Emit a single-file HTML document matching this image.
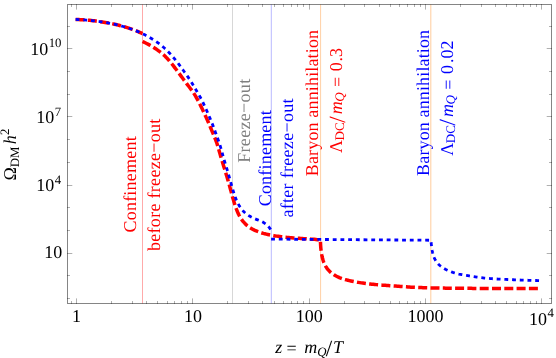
<!DOCTYPE html>
<html><head><meta charset="utf-8"><title>plot</title>
<style>html,body{margin:0;padding:0;background:#fff;}body{width:556px;height:358px;overflow:hidden;position:relative;font-family:"Liberation Serif",serif;}</style></head>
<body>
<svg width="556" height="358" viewBox="0 0 556 358" style="position:absolute;left:0;top:0;font-family:'Liberation Serif',serif;text-rendering:geometricPrecision;will-change:transform">
<rect width="556" height="358" fill="#fff"/>
<line x1="142.5" y1="4.5" x2="142.5" y2="303.5" stroke="rgb(255,170,170)" stroke-width="1"/>
<line x1="232.5" y1="4.5" x2="232.5" y2="303.5" stroke="rgb(215,215,215)" stroke-width="1"/>
<line x1="271.3" y1="4.5" x2="271.3" y2="303.5" stroke="rgb(185,185,255)" stroke-width="1"/>
<line x1="320.6" y1="4.5" x2="320.6" y2="303.5" stroke="rgb(255,208,165)" stroke-width="1"/>
<line x1="430.8" y1="4.5" x2="430.8" y2="303.5" stroke="rgb(255,208,165)" stroke-width="1.1"/>
<path d="M75.60 19.45L77.16 19.52L78.73 19.60L80.29 19.68L81.85 19.77L83.41 19.87L84.97 19.97L86.53 20.09L88.09 20.22L89.65 20.36L91.21 20.52L92.76 20.69L94.32 20.86L95.87 21.06L97.42 21.26L98.97 21.47L100.52 21.69L102.07 21.92L103.61 22.17L105.16 22.42L106.70 22.68L108.24 22.95L109.78 23.24L111.31 23.54L112.84 23.86L114.37 24.20L115.89 24.55L117.41 24.92L118.93 25.31L120.44 25.71L121.95 26.12L123.46 26.54L124.96 26.98L126.46 27.43L127.95 27.89L129.44 28.38L130.92 28.88L132.39 29.40L133.86 29.95L135.31 30.51L136.76 31.10L138.21 31.71L139.64 32.33L141.07 32.96L142.50 33.60" fill="none" stroke="#ff0000" stroke-width="3.5" stroke-dasharray="9 3.3"/>
<path d="M142.50 41.50L143.87 42.14L145.24 42.79L146.60 43.45L147.95 44.14L149.28 44.85L150.60 45.58L151.90 46.35L153.19 47.14L154.46 47.96L155.72 48.80L156.97 49.66L158.20 50.54L159.41 51.45L160.61 52.37L161.78 53.32L162.93 54.30L164.06 55.30L165.16 56.33L166.23 57.39L167.27 58.48L168.29 59.60L169.29 60.73L170.26 61.89L171.22 63.06L172.16 64.25L173.09 65.44L174.01 66.64L174.93 67.85L175.84 69.06L176.75 70.27L177.65 71.48L178.56 72.70L179.46 73.91L180.36 75.13L181.26 76.35L182.15 77.57L183.05 78.79L183.94 80.01L184.84 81.23L185.75 82.44L186.66 83.64L187.58 84.85L188.50 86.04L189.42 87.24L190.34 88.45L191.24 89.66L192.12 90.89L192.98 92.13L193.81 93.39L194.63 94.67L195.42 95.95L196.19 97.26L196.94 98.57L197.67 99.90L198.38 101.23L199.08 102.57L199.76 103.92L200.44 105.27L201.11 106.63L201.76 108.00L202.42 109.36L203.07 110.73L203.72 112.10L204.36 113.47L204.99 114.84L205.63 116.22L206.25 117.60L206.87 118.98L207.48 120.36L208.09 121.75L208.69 123.14L209.28 124.53L209.87 125.92L210.45 127.32L211.04 128.72L211.62 130.11L212.21 131.51L212.79 132.91L213.38 134.30L213.96 135.70L214.54 137.10L215.11 138.50L215.66 139.91L216.19 141.33L216.70 142.75L217.18 144.18L217.64 145.61L218.08 147.06L218.51 148.51L218.92 149.97L219.32 151.43L219.72 152.88L220.13 154.34L220.54 155.80L220.96 157.25L221.39 158.71L221.83 160.15L222.28 161.60L222.73 163.05L223.18 164.49L223.63 165.94L224.08 167.38L224.53 168.82L224.98 170.27L225.42 171.72L225.86 173.17L226.30 174.62L226.74 176.06L227.17 177.52L227.59 178.97L228.02 180.42L228.44 181.87L228.85 183.33L229.26 184.79L229.66 186.25L230.06 187.71L230.46 189.17L230.85 190.63L231.24 192.09L231.63 193.55L232.02 195.02L232.42 196.48L232.82 197.93L233.24 199.39L233.66 200.84L234.10 202.29L234.55 203.74L235.01 205.18L235.49 206.61L236.00 208.04L236.53 209.46L237.09 210.86L237.68 212.25L238.31 213.63L238.97 214.98L239.68 216.31L240.43 217.62L241.24 218.89L242.10 220.12L243.01 221.32L243.98 222.46L245.00 223.56L246.08 224.60L247.21 225.59L248.38 226.51L249.61 227.38L250.87 228.19L252.17 228.95L253.50 229.66L254.86 230.31L256.24 230.92L257.64 231.49L259.06 232.02L260.48 232.52L261.92 232.98L263.37 233.41L264.83 233.80L266.30 234.17L267.77 234.51L269.25 234.83L270.73 235.13L272.22 235.40L273.71 235.66L275.20 235.91L276.70 236.14L278.20 236.35L279.70 236.55L281.20 236.74L282.70 236.92L284.21 237.08L285.71 237.23L287.22 237.37L288.73 237.51L290.23 237.64L291.74 237.77L293.25 237.89L294.76 238.01L296.27 238.12L297.78 238.24L299.29 238.35L300.80 238.45L302.31 238.55L303.82 238.65L305.33 238.75L306.84 238.84L308.35 238.93L309.87 239.02L311.38 239.13L312.88 239.24L314.39 239.36L315.90 239.50L317.40 239.66L318.90 239.83L320.40 240.00L320.45 241.51L320.51 243.02L320.58 244.53L320.67 246.04L320.78 247.54L320.92 249.05L321.09 250.55L321.29 252.04L321.53 253.53L321.80 255.02L322.11 256.50L322.47 257.97L322.87 259.43L323.31 260.87L323.82 262.29L324.38 263.68L325.01 265.03L325.71 266.35L326.49 267.61L327.35 268.82L328.29 269.97L329.30 271.06L330.38 272.09L331.53 273.05L332.72 273.95L333.97 274.79L335.26 275.57L336.58 276.29L337.93 276.96L339.31 277.57L340.71 278.12L342.12 278.64L343.56 279.11L345.00 279.54L346.46 279.93L347.92 280.30L349.39 280.65L350.87 280.97L352.35 281.28L353.84 281.58L355.32 281.86L356.81 282.13L358.30 282.39L359.79 282.63L361.28 282.86L362.77 283.09L364.27 283.29L365.77 283.49L367.27 283.68L368.76 283.86L370.27 284.03L371.77 284.19L373.27 284.34L374.77 284.49L376.28 284.63L377.78 284.77L379.29 284.90L380.79 285.02L382.30 285.14L383.80 285.26L385.31 285.37L386.82 285.48L388.32 285.59L389.83 285.70L391.34 285.80L392.84 285.90L394.35 286.01L395.86 286.12L397.36 286.22L398.87 286.33L400.38 286.44L401.88 286.55L403.39 286.66L404.90 286.76L406.40 286.86L407.91 286.96L409.42 287.05L410.92 287.14L412.43 287.22L413.94 287.29L415.45 287.36L416.96 287.43L418.47 287.49L419.98 287.55L421.49 287.61L423.00 287.66L424.51 287.71L426.02 287.76L427.53 287.80L429.04 287.84L430.55 287.88L432.06 287.91L433.57 287.94L435.08 287.97L436.59 288.00L438.10 288.02L439.61 288.05L441.12 288.07L442.63 288.09L444.14 288.11L445.65 288.13L447.16 288.15L448.67 288.17L450.18 288.19L451.69 288.20L453.20 288.22L454.71 288.24L456.22 288.25L457.73 288.26L459.24 288.28L460.75 288.29L462.26 288.30L463.77 288.31L465.28 288.32L466.79 288.34L468.30 288.35L469.81 288.36L471.32 288.37L472.83 288.38L474.34 288.39L475.85 288.40L477.36 288.41L478.87 288.41L480.38 288.42L481.90 288.43L483.41 288.43L484.92 288.44L486.43 288.44L487.94 288.44L489.45 288.45L490.96 288.45L492.47 288.45L493.98 288.45L495.49 288.45L497.00 288.45L498.51 288.45L500.02 288.45L501.53 288.45L503.04 288.45L504.55 288.45L506.06 288.45L507.57 288.45L509.08 288.45L510.59 288.45L512.10 288.45L513.61 288.45L515.12 288.45L516.63 288.45L518.14 288.45L519.65 288.45L521.16 288.45L522.68 288.45L524.19 288.45L525.70 288.45L527.21 288.45L528.72 288.45L530.23 288.45L531.74 288.45L533.25 288.45L534.76 288.45L536.27 288.45L537.78 288.45L539.29 288.45L540.80 288.45" fill="none" stroke="#ff0000" stroke-width="3.5" stroke-dasharray="9 3.3" stroke-dashoffset="0"/>
<path d="M75.60 19.45L77.11 19.52L78.62 19.59L80.12 19.67L81.63 19.75L83.14 19.84L84.64 19.95L86.15 20.06L87.65 20.18L89.15 20.31L90.65 20.46L92.15 20.62L93.65 20.78L95.15 20.96L96.65 21.15L98.14 21.35L99.64 21.56L101.13 21.78L102.62 22.01L104.12 22.24L105.60 22.49L107.09 22.74L108.58 23.01L110.06 23.29L111.54 23.58L113.01 23.89L114.49 24.22L115.96 24.56L117.42 24.92L118.88 25.29L120.34 25.68L121.80 26.07L123.25 26.48L124.70 26.90L126.15 27.33L127.59 27.77L129.03 28.24L130.46 28.71L131.88 29.21L133.30 29.73L134.71 30.27L136.11 30.82L137.50 31.41L138.88 32.01L140.25 32.63L141.62 33.27L142.98 33.93L144.32 34.61L145.66 35.31L146.99 36.02L148.31 36.75L149.62 37.49L150.93 38.25L152.22 39.03L153.50 39.83L154.77 40.64L156.02 41.48L157.26 42.34L158.47 43.23L159.68 44.14L160.86 45.07L162.03 46.03L163.18 47.00L164.31 47.99L165.43 49.01L166.53 50.04L167.61 51.09L168.67 52.16L169.71 53.25L170.73 54.36L171.72 55.49L172.71 56.64L173.68 57.79L174.64 58.95L175.59 60.13L176.53 61.30L177.47 62.49L178.39 63.68L179.31 64.88L180.21 66.09L181.10 67.31L181.98 68.53L182.86 69.76L183.73 70.98L184.61 72.21L185.49 73.44L186.36 74.67L187.23 75.91L188.09 77.14L188.94 78.39L189.77 79.65L190.59 80.91L191.40 82.19L192.19 83.47L192.97 84.76L193.74 86.06L194.50 87.36L195.27 88.66L196.04 89.96L196.80 91.26L197.57 92.56L198.33 93.86L199.09 95.17L199.83 96.48L200.56 97.80L201.27 99.12L201.96 100.46L202.64 101.81L203.29 103.17L203.94 104.53L204.57 105.91L205.19 107.28L205.81 108.66L206.43 110.04L207.04 111.42L207.65 112.80L208.26 114.18L208.86 115.57L209.46 116.95L210.05 118.34L210.64 119.73L211.21 121.13L211.78 122.53L212.33 123.93L212.87 125.34L213.41 126.75L213.93 128.16L214.45 129.58L214.97 130.99L215.49 132.41L216.01 133.83L216.52 135.25L217.04 136.67L217.55 138.09L218.06 139.51L218.57 140.93L219.06 142.36L219.54 143.79L220.00 145.22L220.44 146.66L220.87 148.11L221.28 149.56L221.69 151.01L222.08 152.47L222.48 153.92L222.88 155.38L223.29 156.83L223.70 158.28L224.12 159.73L224.56 161.18L224.99 162.62L225.43 164.07L225.87 165.51L226.31 166.95L226.75 168.40L227.18 169.84L227.61 171.29L228.03 172.74L228.45 174.19L228.86 175.64L229.28 177.09L229.69 178.54L230.10 180.00L230.51 181.45L230.91 182.90L231.32 184.36L231.73 185.81L232.14 187.26L232.56 188.71L232.99 190.16L233.42 191.60L233.87 193.04L234.34 194.48L234.83 195.90L235.34 197.32L235.88 198.73L236.45 200.13L237.06 201.50L237.71 202.86L238.40 204.20L239.14 205.51L239.93 206.79L240.77 208.02L241.67 209.22L242.63 210.37L243.65 211.47L244.72 212.51L245.84 213.49L247.02 214.41L248.24 215.27L249.51 216.07L250.81 216.81L252.14 217.51L253.50 218.15L254.88 218.76L256.28 219.33L257.68 219.89L259.09 220.45L260.47 221.02L261.84 221.64L263.16 222.32L264.42 223.07L265.62 223.91L266.74 224.84L267.79 225.87L268.77 226.97L269.68 228.14L270.55 229.36L271.40 230.60" fill="none" stroke="#0000ff" stroke-width="2.8" stroke-dasharray="3.85 3.856"/>
<path d="M271.10 239.10L430.90 240.25L431.05 241.77L431.21 243.29L431.38 244.81L431.56 246.33L431.76 247.84L431.98 249.35L432.24 250.85L432.55 252.34L432.90 253.82L433.32 255.29L433.80 256.72L434.37 258.12L435.01 259.47L435.75 260.78L436.58 262.02L437.49 263.19L438.50 264.29L439.58 265.31L440.74 266.26L441.96 267.15L443.23 267.98L444.55 268.75L445.89 269.48L447.27 270.16L448.66 270.79L450.07 271.38L451.50 271.93L452.93 272.43L454.38 272.89L455.84 273.30L457.32 273.67L458.80 274.02L460.29 274.33L461.79 274.63L463.29 274.91L464.79 275.18L466.30 275.44L467.80 275.71L469.31 275.96L470.82 276.21L472.32 276.46L473.83 276.69L475.34 276.92L476.85 277.13L478.36 277.34L479.87 277.53L481.39 277.71L482.90 277.89L484.42 278.05L485.94 278.20L487.46 278.34L488.98 278.47L490.50 278.59L492.02 278.70L493.54 278.80L495.06 278.89L496.58 278.98L498.11 279.06L499.63 279.14L501.16 279.21L502.68 279.28L504.21 279.35L505.73 279.42L507.25 279.48L508.78 279.55L510.30 279.61L511.83 279.68L513.35 279.74L514.88 279.81L516.40 279.87L517.93 279.93L519.45 279.99L520.97 280.05L522.50 280.11L524.02 280.16L525.55 280.21L527.07 280.26L528.60 280.31L530.12 280.35L531.65 280.39L533.17 280.43L534.70 280.47L536.22 280.50L537.75 280.54L539.27 280.57L540.80 280.60" fill="none" stroke="#0000ff" stroke-width="2.8" stroke-dasharray="3.85 3.856"/>
<path d="M67.0 298.5h3.0M552.0 298.5h-3.0M67.0 275.5h3.0M552.0 275.5h-3.0M67.0 253.5h5.3M552.0 253.5h-5.3M67.0 230.5h3.0M552.0 230.5h-3.0M67.0 207.5h3.0M552.0 207.5h-3.0M67.0 185.5h5.3M552.0 185.5h-5.3M67.0 162.5h3.0M552.0 162.5h-3.0M67.0 139.5h3.0M552.0 139.5h-3.0M67.0 116.5h5.3M552.0 116.5h-5.3M67.0 94.5h3.0M552.0 94.5h-3.0M67.0 71.5h3.0M552.0 71.5h-3.0M67.0 48.5h5.3M552.0 48.5h-5.3M67.0 26.5h3.0M552.0 26.5h-3.0M71.5 304.0v-3.0M71.5 4.0v3.0M76.5 304.0v-5.6M76.5 4.0v5.6M111.5 304.0v-3.0M111.5 4.0v3.0M132.5 304.0v-3.0M132.5 4.0v3.0M146.5 304.0v-3.0M146.5 4.0v3.0M157.5 304.0v-3.0M157.5 4.0v3.0M167.5 304.0v-3.0M167.5 4.0v3.0M174.5 304.0v-3.0M174.5 4.0v3.0M181.5 304.0v-3.0M181.5 4.0v3.0M187.5 304.0v-3.0M187.5 4.0v3.0M192.5 304.0v-5.6M192.5 4.0v5.6M227.5 304.0v-3.0M227.5 4.0v3.0M248.5 304.0v-3.0M248.5 4.0v3.0M262.5 304.0v-3.0M262.5 4.0v3.0M274.5 304.0v-3.0M274.5 4.0v3.0M283.5 304.0v-3.0M283.5 4.0v3.0M291.5 304.0v-3.0M291.5 4.0v3.0M297.5 304.0v-3.0M297.5 4.0v3.0M303.5 304.0v-3.0M303.5 4.0v3.0M309.5 304.0v-5.6M309.5 4.0v5.6M344.5 304.0v-3.0M344.5 4.0v3.0M364.5 304.0v-3.0M364.5 4.0v3.0M379.5 304.0v-3.0M379.5 4.0v3.0M390.5 304.0v-3.0M390.5 4.0v3.0M399.5 304.0v-3.0M399.5 4.0v3.0M407.5 304.0v-3.0M407.5 4.0v3.0M414.5 304.0v-3.0M414.5 4.0v3.0M420.5 304.0v-3.0M420.5 4.0v3.0M425.5 304.0v-5.6M425.5 4.0v5.6M460.5 304.0v-3.0M460.5 4.0v3.0M481.5 304.0v-3.0M481.5 4.0v3.0M495.5 304.0v-3.0M495.5 4.0v3.0M506.5 304.0v-3.0M506.5 4.0v3.0M516.5 304.0v-3.0M516.5 4.0v3.0M523.5 304.0v-3.0M523.5 4.0v3.0M530.5 304.0v-3.0M530.5 4.0v3.0M536.5 304.0v-3.0M536.5 4.0v3.0M541.5 304.0v-5.6M541.5 4.0v5.6" fill="none" stroke="#000" stroke-opacity="0.31" stroke-width="1"/>
<rect x="67.5" y="4.5" width="484.0" height="299.0" fill="none" stroke="#000" stroke-opacity="0.48" stroke-width="1"/>
<g font-size="18" fill="#000">
<text x="44.2" y="258">10</text>
<text x="36.2" y="191.2">10<tspan font-size="12.8" dy="-7.5" dx="0.5">4</tspan></text>
<text x="36.2" y="123.0">10<tspan font-size="12.8" dy="-7.5" dx="0.5">7</tspan></text>
<text x="30.2" y="54.9">10<tspan font-size="12.8" dy="-7.5" dx="0.5">10</tspan></text>
<text x="76.6" y="322" text-anchor="middle">1</text>
<text x="192.9" y="322" text-anchor="middle">10</text>
<text x="309.3" y="322" text-anchor="middle">100</text>
<text x="425.6" y="322" text-anchor="middle">1000</text>
<text x="529.1" y="324.7">10<tspan font-size="12.8" dy="-7.5" dx="0.4">4</tspan></text>
</g>
<g font-size="18" fill="#000">
<text x="275.2" y="353.2"><tspan font-style="italic">z</tspan><tspan x="286.6" dy="1">=</tspan><tspan x="304.2" dy="-1" font-style="italic">m</tspan><tspan font-size="12.8" font-style="italic" dy="2.6">Q</tspan><tspan dy="0.2" x="325.8" font-size="23.2">/</tspan><tspan dy="-2.8" x="333" font-style="italic">T</tspan></text>
<text transform="translate(16.1 180.5) rotate(-90)"><tspan x="0">Ω</tspan><tspan font-size="12.8" dy="2.6" x="13.2">DM</tspan><tspan dy="-2.6" x="36.2" font-style="italic">h</tspan><tspan font-size="12.8" dy="-7.5" x="45.6">2</tspan></text>
</g>
<text transform="translate(136.4 232.5) rotate(-90)" font-size="18" fill="#ff0000" textLength="96.2" lengthAdjust="spacing">Confinement</text>
<text transform="translate(160.0 251.0) rotate(-90)" font-size="18" fill="#ff0000" textLength="132.3" lengthAdjust="spacing">before freeze−out</text>
<text transform="translate(249.7 162.8) rotate(-90)" font-size="18" fill="#808080" textLength="84.0" lengthAdjust="spacing">Freeze−out</text>
<text transform="translate(270.6 206.3) rotate(-90)" font-size="18" fill="#0000ff" textLength="96.1" lengthAdjust="spacing">Confinement</text>
<text transform="translate(293.2 217.6) rotate(-90)" font-size="18" fill="#0000ff" textLength="119.1" lengthAdjust="spacing">after freeze−out</text>
<text transform="translate(318.3 176.2) rotate(-90)" font-size="18" fill="#ff0000" textLength="146.3" lengthAdjust="spacing">Baryon annihilation</text>
<text transform="translate(429.4 175.9) rotate(-90)" font-size="18" fill="#0000ff" textLength="146.0" lengthAdjust="spacing">Baryon annihilation</text>
<text transform="translate(341.8 152.6) rotate(-90)" font-size="18" fill="#ff0000"><tspan x="-0.3">Λ</tspan><tspan font-size="13.1" dy="2.4" x="12.2">DC</tspan><tspan dy="0.4" x="29.9" font-size="23.2">/</tspan><tspan dy="-2.8" x="38.4" font-style="italic">m</tspan><tspan font-size="13.1" font-style="italic" dy="2.4" x="50.9">Q</tspan><tspan dy="-1.4" x="65.6">=</tspan><tspan dy="-1" x="81.4">0</tspan><tspan x="91.2">.3</tspan></text>
<text transform="translate(452.6 155.4) rotate(-90)" font-size="18" fill="#0000ff"><tspan x="-0.3">Λ</tspan><tspan font-size="13.1" dy="2.4" x="12.2">DC</tspan><tspan dy="0.4" x="29.9" font-size="23.2">/</tspan><tspan dy="-2.8" x="38.4" font-style="italic">m</tspan><tspan font-size="13.1" font-style="italic" dy="2.4" x="50.9">Q</tspan><tspan dy="-1.4" x="65.6">=</tspan><tspan dy="-1" x="81.4">0</tspan><tspan x="92.3">.02</tspan></text>
</svg>
</body></html>
